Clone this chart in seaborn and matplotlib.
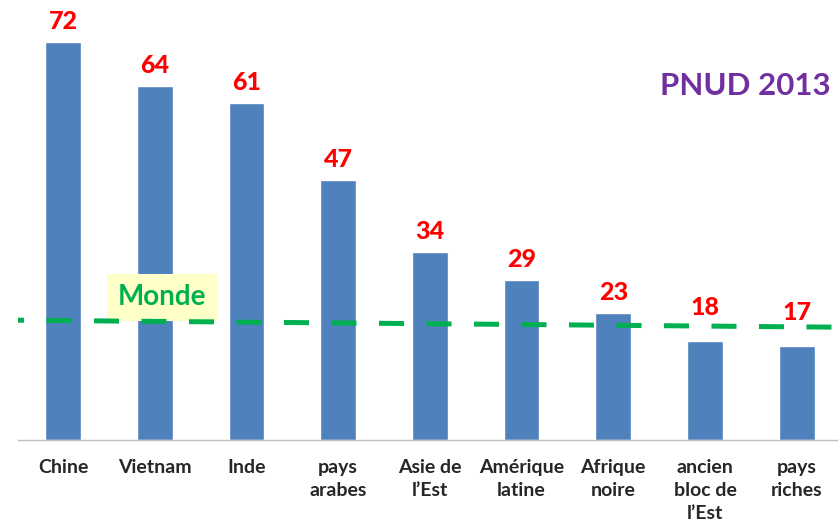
import matplotlib
matplotlib.use("Agg")
import matplotlib.pyplot as plt
import seaborn as sns
import pandas as pd

categories = ["Chine", "Vietnam", "Inde", "pays\narabes", "Asie de\nl\u2019Est",
              "Amérique\nlatine", "Afrique\nnoire", "ancien\nbloc de\nl\u2019Est", "pays\nriches"]
values = [72, 64, 61, 47, 34, 29, 23, 18, 17]
# world reference line (drawn slightly sloped as in the source picture)
world_start = 21.7
world_end = 20.4

sns.set_theme(style="white")
plt.rcParams['font.family'] = ['Lato', 'DejaVu Sans']

df = pd.DataFrame({"cat": categories, "val": values})

fig = plt.figure(figsize=(8.38, 5.26), dpi=100)
ax = fig.add_axes([0.0215, 0.1635, 0.9785, 0.8365])

sns.barplot(data=df, x="cat", y="val", color="#4F81BD", saturation=1,
            width=0.39, ax=ax)

ax.set_xlim(-0.49, 8.45)
ax.set_ylim(0, 79.6)

ax.plot([-0.7, 8.5], [world_start, world_end], color="#00B050", lw=3.6,
        linestyle=(0, (5, 4.5)), zorder=3)

for i, v in enumerate(values):
    off = 3.9 if v < 20 else 1.6
    ax.text(i, v + off, str(v), ha="center", va="bottom", color="#FF0000",
            fontsize=18, fontweight="black")

ax.text(1.08, 25.8, "Monde", ha="center", va="center", color="#00B050",
        fontsize=20, fontweight="bold", zorder=2,
        bbox=dict(boxstyle="square,pad=0.38", fc="#FFFFC8", ec="none"))

fig.text(0.889, 0.836, "PNUD 2013", ha="center", va="center", color="#7030A0",
         fontsize=22.5, fontweight="bold")

ax.set_xlabel("")
ax.set_ylabel("")
ax.set_yticks([])
ax.tick_params(axis="x", length=0, pad=14)
for lab in ax.get_xticklabels():
    lab.set_fontweight("bold")
    lab.set_fontsize(14)
    lab.set_color("#262626")
    lab.set_va("top")
    lab.set_linespacing(1.4)

for s in ["top", "right", "left"]:
    ax.spines[s].set_visible(False)
ax.spines["bottom"].set_color("#BFBFBF")
ax.spines["bottom"].set_linewidth(1)

fig.savefig("out.png", dpi=100)
